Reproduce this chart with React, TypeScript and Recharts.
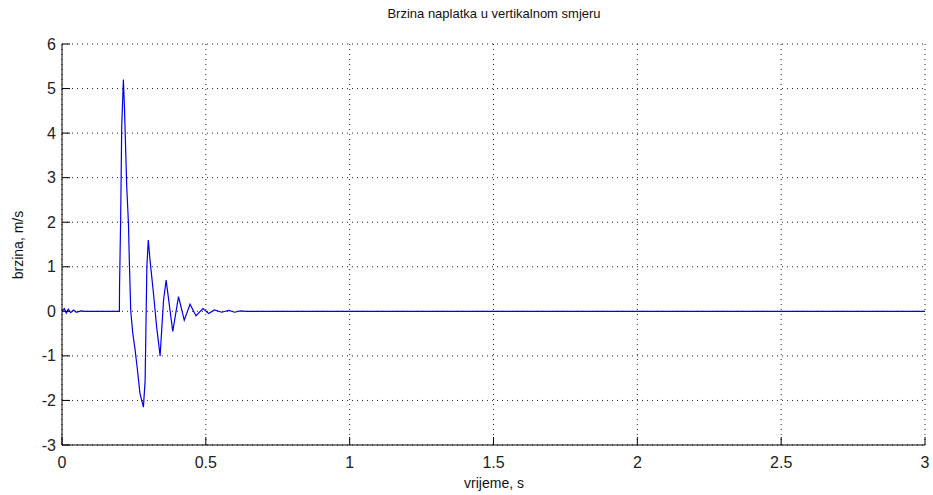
import { LineChart, Line, XAxis, YAxis, CartesianGrid } from 'recharts'

// vremenski trenuci (s) i brzina naplatka (m/s), ocitano sa slike
const times = [
  0, 0.008, 0.015, 0.022, 0.03, 0.04, 0.05, 0.065, 0.08, 0.1, 0.1995,
  0.2, 0.204, 0.2076, 0.2134, 0.217, 0.225, 0.231, 0.234, 0.239, 0.246,
  0.254, 0.262, 0.271, 0.283, 0.289, 0.295, 0.3, 0.306, 0.318, 0.329,
  0.341, 0.353, 0.362, 0.385, 0.405, 0.425, 0.445, 0.466, 0.49, 0.51,
  0.53, 0.555, 0.58, 0.6, 0.62, 0.64, 1, 2, 3,
]
const speeds = [
  0, 0.06, -0.04, 0.05, -0.03, 0.03, -0.02, 0.01, 0, 0, 0,
  0.55, 2.1, 4.15, 5.2, 4.6, 2.8, 1.97, 1.15, 0, -0.49,
  -0.86, -1.3, -1.84, -2.15, -1.55, 1.0, 1.6, 1.15, 0.4, -0.35,
  -1.0, 0.25, 0.7, -0.45, 0.33, -0.2, 0.16, -0.1, 0.06, -0.05,
  0.03, -0.02, 0.02, -0.02, 0.01, 0, 0, 0, 0,
]
const xTicks = [0, 0.5, 1, 1.5, 2, 2.5, 3]
const yTicks = [-3, -2, -1, 0, 1, 2, 3, 4, 5, 6]

const data = times.map((t, i) => ({ t, v: speeds[i] }))

const FONT = '"Liberation Sans", Arial, sans-serif'
const TICK = 8

const BottomTick = ({ x, y, payload }: any) => (
  <g>
    <line x1={x} x2={x} y1={y} y2={y - TICK} stroke="#000" />
    <text x={x} y={y + 17} textAnchor="middle" dominantBaseline="central"
      fontFamily={FONT} fontSize={16} fill="#222">{payload.value}</text>
  </g>
)
const TopTick = ({ x, y }: any) => (
  <line x1={x} x2={x} y1={y} y2={y + TICK} stroke="#000" />
)
const LeftTick = ({ x, y, payload }: any) => (
  <g>
    <line x1={x} x2={x + TICK} y1={y} y2={y} stroke="#000" />
    <text x={x - 6} y={y} textAnchor="end" dominantBaseline="central"
      fontFamily={FONT} fontSize={16} fill="#222">{payload.value}</text>
  </g>
)
const RightTick = ({ x, y }: any) => (
  <line x1={x} x2={x - TICK} y1={y} y2={y} stroke="#000" />
)

export default function App() {
  return (
    <div style={{ position: 'absolute', left: 0, top: 0, background: '#fff' }}>
      <LineChart width={933} height={495} data={data}
        margin={{ top: 44, right: 8, bottom: 0, left: 0 }}>
        <text x={494} y={13} textAnchor="middle" dominantBaseline="central"
          fontFamily={FONT} fontSize={13} fill="#111">Brzina naplatka u vertikalnom smjeru</text>
        <text x={494} y={483} textAnchor="middle" dominantBaseline="central"
          fontFamily={FONT} fontSize={14} fill="#111">vrijeme, s</text>
        <text x={18} y={245} textAnchor="middle" dominantBaseline="central"
          transform="rotate(-90 18 245)" fontFamily={FONT} fontSize={14} fill="#111">brzina, m/s</text>
        <CartesianGrid stroke="#222" strokeDasharray="1 4" />
        <XAxis dataKey="t" type="number" domain={[0, 3]} ticks={xTicks} allowDataOverflow
          height={50} tickSize={0} tickMargin={0} tickLine={false}
          axisLine={{ stroke: '#000' }} tick={<BottomTick />} />
        <XAxis xAxisId="top" orientation="top" dataKey="t" type="number" domain={[0, 3]}
          ticks={xTicks} allowDataOverflow height={0} tickSize={0} tickMargin={0} tickLine={false}
          axisLine={{ stroke: '#000' }} tick={<TopTick />} />
        <YAxis type="number" domain={[-3, 6]} ticks={yTicks} allowDataOverflow width={62}
          tickSize={0} tickMargin={0} tickLine={false} axisLine={{ stroke: '#000' }}
          tick={<LeftTick />} />
        <YAxis yAxisId="right" orientation="right" type="number" domain={[-3, 6]} ticks={yTicks}
          allowDataOverflow width={0} tickSize={0} tickMargin={0} tickLine={false}
          axisLine={{ stroke: '#000' }} tick={<RightTick />} />
        <Line type="linear" dataKey="v" stroke="#0000ee" strokeWidth={1.2} dot={false}
          isAnimationActive={false} />
      </LineChart>
    </div>
  )
}
